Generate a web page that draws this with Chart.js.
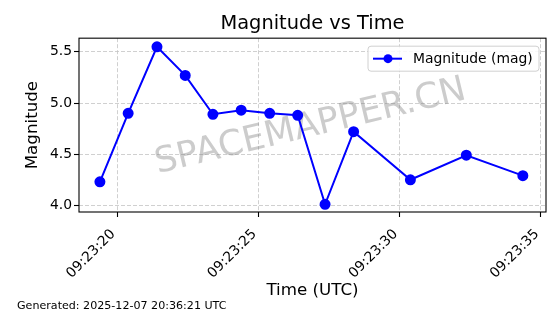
<!DOCTYPE html>
<html>
<head>
<meta charset="utf-8">
<script src="https://cdn.jsdelivr.net/npm/chart.js@4"></script>
<style>
  html, body { margin: 0; padding: 0; background: #fff; }
  #wrap { width: 560px; height: 314px; }
</style>
</head>
<body>
<div id="wrap"><canvas id="mag-chart" width="560" height="314"></canvas></div>
<script>
// seconds after 09:23:00 UTC
const TIMES = [19.39, 20.39, 21.41, 22.41, 23.39, 24.39, 25.40, 26.39, 27.36, 28.37, 30.38, 32.36, 34.36];
const MAGS  = [4.23, 4.90, 5.55, 5.27, 4.89, 4.93, 4.90, 4.88, 4.01, 4.72, 4.25, 4.49, 4.29];
const TIME_PREFIX = '09:23:';
const X_TICKS = [20, 25, 30, 35];
const Y_TICKS = [4.0, 4.5, 5.0, 5.5];
const X_MIN = 18.65, X_MAX = 35.18;
const Y_MIN = 3.935, Y_MAX = 5.634;
const FOOTER = 'Generated: 2025-12-07 20:36:21 UTC';
const WATERMARK = 'SPACEMAPPER.CN';

const FONT = 'DejaVu Sans';
const GRID = '#c4c4c4';
Chart.defaults.font.family = FONT;
Chart.defaults.color = '#000';

// watermark behind the line, legend + frame on top, footer at the bottom
const decor = {
  id: 'decor',
  beforeDatasetsDraw(chart) {
    const {ctx, chartArea: a} = chart;
    ctx.save();
    ctx.translate((a.left + a.right) / 2 - 2, (a.top + a.bottom) / 2 + 2);
    ctx.rotate(-13.5 * Math.PI / 180);
    ctx.font = '35.5px ' + FONT;
    ctx.fillStyle = 'rgba(128,128,128,0.4)';
    ctx.textAlign = 'center';
    ctx.textBaseline = 'middle';
    ctx.fillText(WATERMARK, 0, 0);
    ctx.restore();
  },
  afterDatasetsDraw(chart) {
    const {ctx, chartArea: a} = chart;
    const ds = chart.data.datasets[0];
    ctx.save();
    // frame
    ctx.strokeStyle = '#000';
    ctx.lineWidth = 1.1;
    ctx.strokeRect(a.left, a.top, a.right - a.left, a.bottom - a.top);
    // legend box
    const bx = a.right - 178, by = a.top + 8, bw = 171, bh = 25;
    ctx.beginPath();
    ctx.roundRect(bx, by, bw, bh, 3);
    ctx.fillStyle = 'rgba(255,255,255,0.85)';
    ctx.fill();
    ctx.strokeStyle = '#d0d0d0';
    ctx.lineWidth = 1;
    ctx.stroke();
    const ly = by + 12.5;
    ctx.beginPath();
    ctx.moveTo(bx + 5, ly);
    ctx.lineTo(bx + 34, ly);
    ctx.strokeStyle = ds.borderColor;
    ctx.lineWidth = ds.borderWidth;
    ctx.stroke();
    ctx.beginPath();
    ctx.arc(bx + 20, ly, ds.pointRadius, 0, Math.PI * 2);
    ctx.fillStyle = ds.backgroundColor;
    ctx.fill();
    ctx.font = '13.9px ' + FONT;
    ctx.fillStyle = '#000';
    ctx.textBaseline = 'middle';
    ctx.fillText(ds.label, bx + 45, ly + 0.5);
    ctx.restore();
  },
  afterDraw(chart) {
    const {ctx} = chart;
    ctx.save();
    ctx.font = '11.1px ' + FONT;
    ctx.fillStyle = '#000';
    ctx.textBaseline = 'alphabetic';
    ctx.fillText(FOOTER, 17, 308.5);
    ctx.restore();
  }
};

const points = TIMES.map((t, i) => ({x: t, y: MAGS[i]}));

new Chart(document.getElementById('mag-chart').getContext('2d'), {
  type: 'line',
  data: {
    datasets: [{
      label: 'Magnitude (mag)',
      data: points,
      borderColor: '#0000ff',
      backgroundColor: '#0000ff',
      borderWidth: 2,
      pointRadius: 4.5,
      pointHoverRadius: 4.5,
      tension: 0,
    }]
  },
  options: {
    responsive: false,
    animation: false,
    devicePixelRatio: 1,
    layout: { padding: { left: 0, right: 14, top: 0, bottom: 12 } },
    plugins: {
      legend: { display: false },
      tooltip: { enabled: false },
      title: {
        display: true, text: 'Magnitude vs Time', fullSize: false,
        font: { size: 19.4, weight: 'normal' }, color: '#000',
        padding: { top: 12.5, bottom: 2.4 }
      }
    },
    scales: {
      x: {
        type: 'linear', min: X_MIN, max: X_MAX,
        afterBuildTicks: s => { s.ticks = X_TICKS.map(v => ({value: v})); },
        afterFit: s => { s.height = 90; s.paddingLeft = 0; s.paddingRight = 0; },
        ticks: {
          autoSkip: false, maxRotation: 45, minRotation: 45, padding: 9, labelOffset: -4,
          font: { size: 13.9 }, color: '#000',
          callback: v => TIME_PREFIX + String(v).padStart(2, '0')
        },
        grid: { color: GRID, lineWidth: 0.8, tickColor: '#000', tickLength: 5, tickWidth: 1.1 },
        border: { display: false, dash: [4, 2] },
        title: { display: true, text: 'Time (UTC)', font: { size: 16.7 }, color: '#000', padding: { top: 0, bottom: 1 } }
      },
      y: {
        min: Y_MIN, max: Y_MAX,
        afterBuildTicks: s => { s.ticks = Y_TICKS.map(v => ({value: v})); },
        afterFit: s => { s.width = 79; },
        ticks: { padding: 2, font: { size: 13.9 }, color: '#000', callback: v => v.toFixed(1) },
        grid: { color: GRID, lineWidth: 0.8, tickColor: '#000', tickLength: 5, tickWidth: 1.1 },
        border: { display: false, dash: [4, 2] },
        title: { display: true, text: 'Magnitude', font: { size: 16.7 }, color: '#000', padding: { top: 23, bottom: 0 } }
      }
    }
  },
  plugins: [decor]
});
</script>
</body>
</html>
